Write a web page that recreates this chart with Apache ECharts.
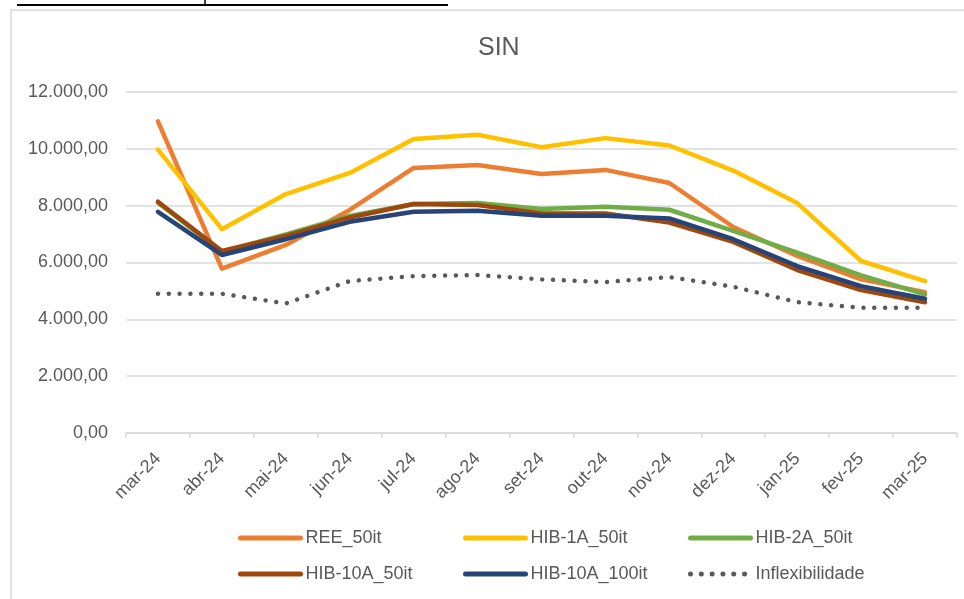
<!DOCTYPE html>
<html>
<head>
<meta charset="utf-8">
<script src="https://cdn.jsdelivr.net/npm/echarts@6/dist/echarts.min.js"></script>
<style>
  html, body { margin: 0; padding: 0; background: #fff; }
  #chart { width: 964px; height: 599px; }
</style>
</head>
<body>
<div id="chart"></div>
<script>
var months = ["mar-24", "abr-24", "mai-24", "jun-24", "jul-24", "ago-24", "set-24", "out-24", "nov-24", "dez-24", "jan-25", "fev-25", "mar-25"];

var ree50 = [10965, 5784, 6618, 7850, 9328, 9434, 9117, 9258, 8798, 7250, 6230, 5406, 4958];
var hib1a50 = [9975, 7173, 8410, 9152, 10343, 10495, 10059, 10377, 10118, 9234, 8092, 6053, 5346];
var hib2a50 = [8100, 6380, 6990, 7640, 8060, 8092, 7880, 7962, 7856, 7113, 6349, 5547, 4876];
var hib10a50 = [8138, 6406, 6936, 7586, 8056, 8021, 7727, 7727, 7408, 6724, 5735, 5028, 4604];
var hib10a100 = [7785, 6265, 6820, 7432, 7785, 7820, 7644, 7644, 7550, 6819, 5876, 5169, 4724];
var inflex = [4900, 4900, 4558, 5346, 5523, 5558, 5406, 5311, 5488, 5148, 4604, 4406, 4406];

var seriesNames = ["REE_50it", "HIB-1A_50it", "HIB-2A_50it", "HIB-10A_50it", "HIB-10A_100it", "Inflexibilidade"];
var seriesColors = ["#ED7D31", "#FFC000", "#70AD47", "#9E480E", "#264478", "#595959"];

var FONT = "Liberation Sans";
var TEXT = "#595959";

// pt-BR number format: 12.000,00
function brNumber(v) {
  var parts = v.toFixed(2).split(".");
  var intPart = parts[0].replace(/\B(?=(\d{3})+(?!\d))/g, ".");
  return intPart + "," + parts[1];
}

function makeLine(name, data, color, dotted) {
  return {
    name: name,
    type: "line",
    data: data,
    symbol: "none",
    color: color,
    lineStyle: {
      color: color,
      width: 4.5,
      type: dotted ? [0.01, 10.8] : "solid",
      cap: "round",
      join: "round"
    }
  };
}

// one legend per entry so the 3x2 grid keeps Excel's fixed column pitch
var legendCols = [238, 463, 688];
var legendRows = [529, 565];
var legends = seriesNames.map(function (name, i) {
  return {
    left: legendCols[i % 3],
    top: legendRows[Math.floor(i / 3)],
    padding: 0,
    data: [name],
    itemWidth: 60,
    itemHeight: 14,
    selectedMode: false,
    itemStyle: { opacity: 0 },
    lineStyle: { width: 5, cap: "round" },
    textStyle: { fontFamily: FONT, fontSize: 18, color: TEXT }
  };
});

var chart = echarts.init(document.getElementById("chart"), null, { renderer: "canvas" });

chart.setOption({
  animation: false,
  backgroundColor: "#fff",
  title: {
    text: "SIN",
    left: 473,
    top: 31,
    textStyle: { fontFamily: FONT, fontSize: 25, fontWeight: "normal", color: TEXT }
  },
  legend: legends,
  grid: { left: 126, right: 7, top: 92, bottom: 166, containLabel: false },
  xAxis: {
    type: "category",
    data: months,
    boundaryGap: true,
    axisLine: { lineStyle: { color: "#d9d9d9", width: 1.5 } },
    axisTick: { show: true, length: 5, lineStyle: { color: "#d9d9d9", width: 1.5 } },
    axisLabel: { rotate: 45, margin: 23, fontFamily: FONT, fontSize: 18, color: TEXT, interval: 0 }
  },
  yAxis: {
    type: "value",
    min: 0,
    max: 12000,
    interval: 2000,
    axisLine: { show: false },
    axisTick: { show: false },
    splitLine: { lineStyle: { color: "#d9d9d9", width: 1.5 } },
    axisLabel: { margin: 18, fontFamily: FONT, fontSize: 18, color: TEXT, formatter: brNumber }
  },
  graphic: [
    { type: "rect", shape: { x: 11, y: 10, width: 1000, height: 700 }, style: { fill: null, stroke: "#d9d9d9", lineWidth: 1.5 }, z: -1 },
    { type: "line", shape: { x1: 17, y1: 5, x2: 448, y2: 5 }, style: { stroke: "#000", lineWidth: 2 } },
    { type: "line", shape: { x1: 205, y1: 0, x2: 205, y2: 5 }, style: { stroke: "#000", lineWidth: 1.5 } }
  ],
  series: [
    makeLine(seriesNames[0], ree50, seriesColors[0]),
    makeLine(seriesNames[1], hib1a50, seriesColors[1]),
    makeLine(seriesNames[2], hib2a50, seriesColors[2]),
    makeLine(seriesNames[3], hib10a50, seriesColors[3]),
    makeLine(seriesNames[4], hib10a100, seriesColors[4]),
    makeLine(seriesNames[5], inflex, seriesColors[5], true)
  ]
});
</script>
</body>
</html>
